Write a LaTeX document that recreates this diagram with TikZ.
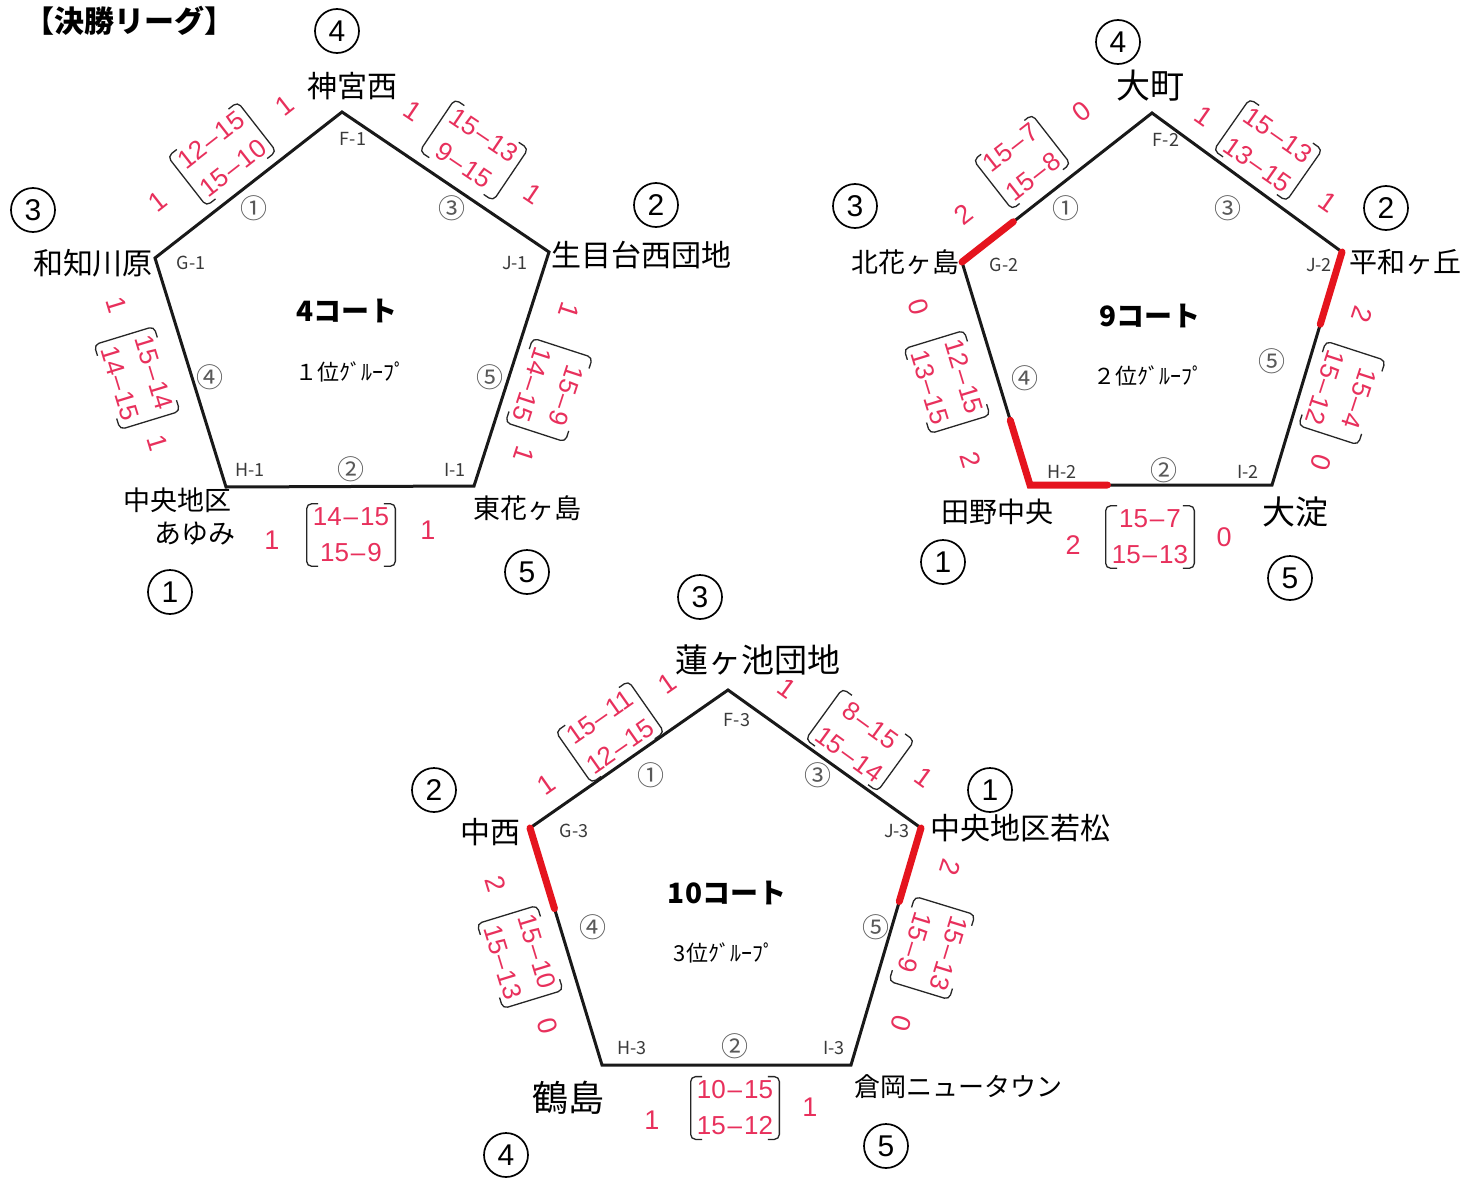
\documentclass[tikz,border=0pt]{standalone}
\usepackage{fontspec}
\setmainfont{Noto Sans CJK JP}
\newfontfamily\numfont{Liberation Sans}
\usetikzlibrary{calc}
\definecolor{scorered}{HTML}{E8305C}
\definecolor{hlred}{HTML}{E5141E}
\definecolor{printgray}{HTML}{3A3A3A}
\newcommand\scorebox[5]{%
  \node[scoretxt, rotate=#3] (#1) at (#2) {#4\\#5};
  \draw[brk] ($(#1.north west)!0.13!(#1.north east)$) -- (#1.north west) -- (#1.south west) -- ($(#1.south west)!0.13!(#1.south east)$);
  \draw[brk] ($(#1.north east)!0.13!(#1.north west)$) -- (#1.north east) -- (#1.south east) -- ($(#1.south east)!0.13!(#1.south west)$);
}
\begin{document}
\begin{tikzpicture}[x=1pt,y=-1pt,
  pent/.style={line width=3pt, line join=miter, draw=black!90},
  hl/.style={line width=7pt, draw=hlred, line cap=round},
  vlab/.style={font=\fontsize{18}{18}\selectfont, text=printgray, inner sep=0},
  cnum/.style={font=\fontsize{27}{27}\selectfont, text=black!65, inner sep=0},
  court/.style={font=\bfseries\fontsize{28}{28}\selectfont, inner sep=0},
  grp/.style={font=\fontsize{22}{22}\selectfont, inner sep=0},
  nametxt/.style={font=\fontsize{30}{30}\selectfont, inner sep=0},
  rankc/.style={circle, draw, line width=1.7pt, minimum size=44pt, inner sep=0, font=\numfont\fontsize{30}{30}\selectfont},
  scoretxt/.style={text=scorered, font=\numfont\fontsize{26}{36}\selectfont, align=center, inner xsep=6pt, inner ysep=4pt},
  brk/.style={line width=1.3pt, rounded corners=5pt, draw=black!85},
  win/.style={text=scorered, font=\numfont\fontsize{27}{27}\selectfont, inner sep=0},
]
\useasboundingbox (0,0) rectangle (1476,1183);
\fill[white] (0,0) rectangle (1476,1183);

\node[anchor=west, font=\bfseries\fontsize{30}{30}\selectfont, inner sep=0] (title) at (24,21) {【決勝リーグ】};

% ---------------- Pentagon 1 ----------------
\coordinate (F1) at (342,112);
\coordinate (G1) at (155,258);
\coordinate (J1) at (549,252);
\coordinate (H1) at (226,487);
\coordinate (I1) at (474,486);
\draw[pent] (F1) -- (J1) -- (I1) -- (H1) -- (G1) -- cycle;
\node[vlab] (lF1) at (353,139) {F-1};
\node[vlab] (lG1) at (191,263) {G-1};
\node[vlab] (lJ1) at (515,263) {J-1};
\node[vlab] (lH1) at (250,470) {H-1};
\node[vlab] (lI1) at (455,470) {I-1};
\node[cnum] (c11) at (254,208) {①};
\node[cnum] (c13) at (452,208) {③};
\node[cnum] (c14) at (210,377) {④};
\node[cnum] (c15) at (490,377) {⑤};
\node[cnum] (c12) at (351,469) {②};
\node[court] (ct1) at (347,311) {4コート};
\node[grp] (gp1) at (350,372) {１位ｸﾞﾙｰﾌﾟ};

\node[rankc] (r1F) at (337,31) {4};
\node[nametxt] (n1F) at (352,86) {神宮西};
\node[rankc] (r1G) at (33,210) {3};
\node[nametxt] (n1G) at (93,263) {和知川原};
\node[rankc] (r1J) at (656,205) {2};
\node[nametxt] (n1J) at (641,255) {生目台西団地};
\node[nametxt, font=\fontsize{27}{27}\selectfont] (n1H) at (177,500) {中央地区};
\node[nametxt, font=\fontsize{27}{27}\selectfont] (n1Hb) at (195,534) {あゆみ};
\node[rankc] (r1H) at (170,592) {1};
\node[nametxt, font=\fontsize{27}{27}\selectfont] (n1I) at (527,508) {東花ヶ島};
\node[rankc] (r1I) at (527,572) {5};

\scorebox{s1GF}{222,154}{38}{12\kern2pt–\kern2pt15}{15\kern2pt–\kern2pt10}
\node[win, rotate=38] (w1GFa) at (158,202) {1};
\node[win, rotate=38] (w1GFb) at (285,106) {1};
\scorebox{s1FJ}{474,150}{-34}{15\kern2pt–\kern2pt13}{9\kern2pt–\kern2pt15}
\node[win, rotate=-34] (w1FJa) at (413,111) {1};
\node[win, rotate=-34] (w1FJb) at (533,194) {1};
\scorebox{s1GH}{137,378}{-73}{15\kern2pt–\kern2pt14}{14\kern2pt–\kern2pt15}
\node[win, rotate=-73] (w1GHa) at (117,305) {1};
\node[win, rotate=-73] (w1GHb) at (158,443) {1};
\scorebox{s1JI}{549,390}{-108}{15\kern2pt–\kern2pt9}{14\kern2pt–\kern2pt15}
\node[win, rotate=-108] (w1JIa) at (569,311) {1};
\node[win, rotate=-108] (w1JIb) at (524,455) {1};
\scorebox{s1HI}{351,535}{0}{14\kern2pt–\kern2pt15}{15\kern2pt–\kern2pt9}
\node[win] (w1HIa) at (272,540) {1};
\node[win] (w1HIb) at (428,530) {1};

% ---------------- Pentagon 2 ----------------
\coordinate (F2) at (1152,113);
\coordinate (G2) at (962,262);
\coordinate (J2) at (1342,252);
\coordinate (H2) at (1030,485);
\coordinate (I2) at (1272,485);
\draw[pent] (F2) -- (J2) -- (I2) -- (H2) -- (G2) -- cycle;
\draw[hl] (G2) -- ($(G2)!0.27!(F2)$);
\draw[hl] (J2) -- ($(J2)!0.31!(I2)$);
\draw[hl] ($(H2)!0.29!(G2)$) -- (H2) -- ($(H2)!0.32!(I2)$);
\node[vlab] (lF2) at (1166,140) {F-2};
\node[vlab] (lG2) at (1004,265) {G-2};
\node[vlab] (lJ2) at (1319,265) {J-2};
\node[vlab] (lH2) at (1062,472) {H-2};
\node[vlab] (lI2) at (1248,472) {I-2};
\node[cnum] (c21) at (1066,208) {①};
\node[cnum] (c23) at (1228,208) {③};
\node[cnum] (c24) at (1025,378) {④};
\node[cnum] (c25) at (1272,361) {⑤};
\node[cnum] (c22) at (1164,470) {②};
\node[court] (ct2) at (1150,316) {9コート};
\node[grp] (gp2) at (1148,376) {２位ｸﾞﾙｰﾌﾟ};

\node[rankc] (r2F) at (1118,42) {4};
\node[nametxt, font=\fontsize{34}{34}\selectfont] (n2F) at (1150,86) {大町};
\node[rankc] (r2G) at (855,206) {3};
\node[nametxt, font=\fontsize{27}{27}\selectfont] (n2G) at (905,262) {北花ヶ島};
\node[rankc] (r2J) at (1386,208) {2};
\node[nametxt, font=\fontsize{28}{28}\selectfont] (n2J) at (1405,262) {平和ヶ丘};
\node[nametxt, font=\fontsize{28}{28}\selectfont] (n2H) at (997,512) {田野中央};
\node[rankc] (r2H) at (943,562) {1};
\node[nametxt, font=\fontsize{33}{33}\selectfont] (n2I) at (1295,512) {大淀};
\node[rankc] (r2I) at (1290,578) {5};

\scorebox{s2GF}{1022,162}{38}{15\kern2pt–\kern2pt7}{15\kern2pt–\kern2pt8}
\node[win, rotate=38] (w2GFa) at (964,214) {2};
\node[win, rotate=38] (w2GFb) at (1082,112) {0};
\scorebox{s2FJ}{1268,150}{-35}{15\kern2pt–\kern2pt13}{13\kern2pt–\kern2pt15}
\node[win, rotate=-35] (w2FJa) at (1204,116) {1};
\node[win, rotate=-35] (w2FJb) at (1328,202) {1};
\scorebox{s2GH}{947,382}{-73}{12\kern2pt–\kern2pt15}{13\kern2pt–\kern2pt15}
\node[win, rotate=-73] (w2GHa) at (919,307) {0};
\node[win, rotate=-73] (w2GHb) at (971,460) {2};
\scorebox{s2JI}{1342,393}{-108}{15\kern2pt–\kern2pt4}{15\kern2pt–\kern2pt12}
\node[win, rotate=-108] (w2JIa) at (1362,315) {2};
\node[win, rotate=-108] (w2JIb) at (1321,463) {0};
\scorebox{s2HI}{1150,537}{0}{15\kern2pt–\kern2pt7}{15\kern2pt–\kern2pt13}
\node[win] (w2HIa) at (1073,545) {2};
\node[win] (w2HIb) at (1224,537) {0};

% ---------------- Pentagon 3 ----------------
\coordinate (F3) at (728,690);
\coordinate (G3) at (530,828);
\coordinate (J3) at (921,828);
\coordinate (H3) at (602,1065);
\coordinate (I3) at (851,1065);
\draw[pent] (F3) -- (J3) -- (I3) -- (H3) -- (G3) -- cycle;
\draw[hl] (G3) -- ($(G3)!0.34!(H3)$);
\draw[hl] (J3) -- ($(J3)!0.31!(I3)$);
\node[vlab] (lF3) at (737,720) {F-3};
\node[vlab] (lG3) at (574,831) {G-3};
\node[vlab] (lJ3) at (897,831) {J-3};
\node[vlab] (lH3) at (632,1048) {H-3};
\node[vlab] (lI3) at (834,1048) {I-3};
\node[cnum] (c31) at (651,775) {①};
\node[cnum] (c33) at (818,775) {③};
\node[cnum] (c34) at (593,927) {④};
\node[cnum] (c35) at (876,927) {⑤};
\node[cnum] (c32) at (735,1046) {②};
\node[court] (ct3) at (727,893) {10コート};
\node[grp] (gp3) at (724,953) {3位ｸﾞﾙｰﾌﾟ};

\node[rankc] (r3F) at (700,597) {3};
\node[nametxt, font=\fontsize{33}{33}\selectfont] (n3F) at (758,660) {蓮ヶ池団地};
\node[rankc] (r3G) at (434,790) {2};
\node[nametxt] (n3G) at (490,832) {中西};
\node[rankc] (r3J) at (990,790) {1};
\node[nametxt] (n3J) at (1020,828) {中央地区若松};
\node[nametxt, font=\fontsize{36}{36}\selectfont] (n3H) at (568,1098) {鶴島};
\node[rankc] (r3H) at (506,1155) {4};
\node[nametxt, font=\fontsize{26}{26}\selectfont] (n3I) at (958,1087) {倉岡ニュータウン};
\node[rankc] (r3I) at (886,1146) {5};

\scorebox{s3GF}{610,732}{35}{15\kern2pt–\kern2pt11}{12\kern2pt–\kern2pt15}
\node[win, rotate=35] (w3GFa) at (546,785) {1};
\node[win, rotate=35] (w3GFb) at (667,684) {1};
\scorebox{s3FJ}{860,740}{-36}{8\kern2pt–\kern2pt15}{15\kern2pt–\kern2pt14}
\node[win, rotate=-36] (w3FJa) at (787,688) {1};
\node[win, rotate=-36] (w3FJb) at (924,777) {1};
\scorebox{s3GH}{520,957}{-73}{15\kern2pt–\kern2pt10}{15\kern2pt–\kern2pt13}
\node[win, rotate=-73] (w3GHa) at (496,884) {2};
\node[win, rotate=-73] (w3GHb) at (548,1026) {0};
\scorebox{s3JI}{932,948}{-107}{15\kern2pt–\kern2pt13}{15\kern2pt–\kern2pt9}
\node[win, rotate=-107] (w3JIa) at (950,867) {2};
\node[win, rotate=-107] (w3JIb) at (901,1023) {0};
\scorebox{s3HI}{735,1108}{0}{10\kern2pt–\kern2pt15}{15\kern2pt–\kern2pt12}
\node[win] (w3HIa) at (652,1120) {1};
\node[win] (w3HIb) at (810,1107) {1};
\end{tikzpicture}
\end{document}
